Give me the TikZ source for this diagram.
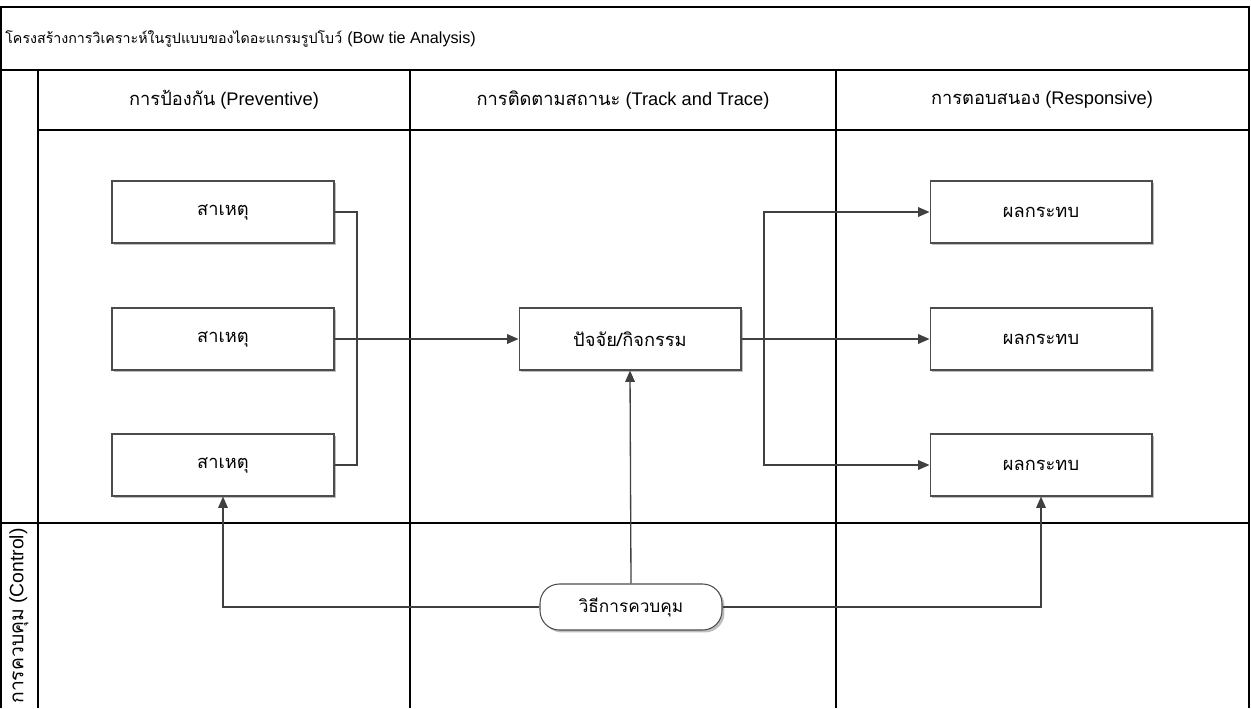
\documentclass[tikz,border=0pt]{standalone}
\usepackage{fontspec}
\setmainfont{Liberation Sans}
\newfontfamily\thaifont[Script=Thai]{Loma}
\usetikzlibrary{arrows.meta,shadows}

\begin{document}
\begin{tikzpicture}[x=0.02cm,y=-0.02cm,
	font=\fontsize{10.4}{12}\selectfont,
	frame/.style={line width=0.8pt,black},
	box/.style={draw=black!70,line width=0.6pt,fill=white,minimum width=4.44cm,minimum height=1.24cm,inner sep=0pt,
		drop shadow={shadow xshift=1.4pt,shadow yshift=-1.4pt,fill=black!25,opacity=1}},
	term/.style={box,minimum width=3.64cm,minimum height=0.92cm,rounded corners=11pt,font=\fontsize{9.8}{12}\selectfont},
	line/.style={draw=black!75,line width=0.75pt},
	arrow/.style={line,-{Triangle[length=6.5pt,width=5.5pt]}}]
	\useasboundingbox (0,0) rectangle (1251,708);
	% lanes
	\draw[frame] (1,708) -- (1,7) -- (1249,7) -- (1249,708);
	\draw[frame] (1,70) -- (1249,70);
	\draw[frame] (38,130) -- (1249,130);
	\draw[frame] (1,523) -- (1249,523);
	\draw[frame] (38,70) -- (38,708);
	\draw[frame] (410,70) -- (410,708);
	\draw[frame] (836,70) -- (836,708);
	\node[anchor=west,inner sep=0pt] (title) at (5,39) {{\fontsize{8.1}{10}\thaifont โครงสร้างการวิเคราะห์ในรูปแบบของไดอะแกรมรูปโบว์} {\fontsize{9.2}{10}\selectfont(Bow tie Analysis)}};
	\node (prev) at (224,100) {{\thaifont การป้องกัน} (Preventive)};
	\node (track) at (623,100) {{\thaifont การติดตามสถานะ} (Track and Trace)};
	\node (resp) at (1042,100) {{\thaifont การตอบสนอง} (Responsive)};
	\node[rotate=90,font=\fontsize{11}{12}\selectfont] (ctrl) at (19,616) {{\thaifont การควบคุม} (Control)};
	% shapes
	\node[box] (cause1) at (223,212) {\thaifont สาเหตุ};
	\node[box] (cause2) at (223,339) {\thaifont สาเหตุ};
	\node[box] (cause3) at (223,465) {\thaifont สาเหตุ};
	\node[box] (factor) at (630,339) {\thaifont ปัจจัย/กิจกรรม};
	\node[box] (effect1) at (1041,212) {\thaifont ผลกระทบ};
	\node[box] (effect2) at (1041,339) {\thaifont ผลกระทบ};
	\node[box] (effect3) at (1041,465) {\thaifont ผลกระทบ};
	\node[term] (control) at (631,607) {\thaifont วิธีการควบคุม};
	\coordinate (jl) at (357,339);
	\coordinate (jr) at (764,339);
	% connectors
	\draw[line] (cause1.east) -| (jl) |- (cause3.east);
	\draw[arrow] (cause2.east) -- (factor.west);
	\draw[arrow] (factor.east) -- (effect2.west);
	\draw[arrow] (jr) |- (effect1.west);
	\draw[arrow] (jr) |- (effect3.west);
	\draw[arrow] (control.north) -- (factor.south);
	\draw[arrow] (control.west) -| (cause3.south);
	\draw[arrow] (control.east) -| (effect3.south);
\end{tikzpicture}
\end{document}
